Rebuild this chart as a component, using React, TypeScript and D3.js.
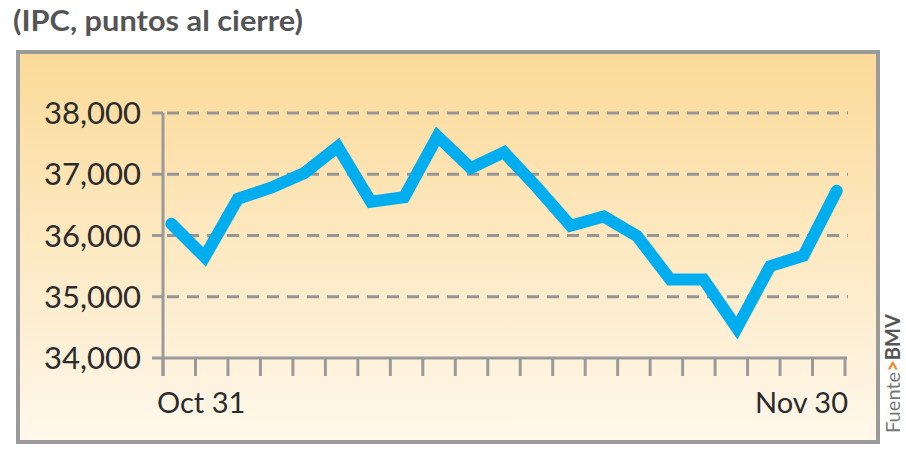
import { useEffect, useRef } from 'react';
import * as d3 from 'd3';

// IPC closing points, Oct 31 - Nov 30
const days = [
  'Oct 31', 'Nov 1', 'Nov 3', 'Nov 4', 'Nov 7', 'Nov 8', 'Nov 9', 'Nov 10', 'Nov 11',
  'Nov 14', 'Nov 15', 'Nov 16', 'Nov 17', 'Nov 18', 'Nov 22', 'Nov 23', 'Nov 24',
  'Nov 25', 'Nov 28', 'Nov 29', 'Nov 30',
];
const closes = [
  36190, 35650, 36600, 36780, 37020, 37450, 36550, 36625, 37620, 37100, 37360,
  36780, 36160, 36310, 35990, 35280, 35280, 34490, 35500, 35670, 36730,
];
const yTicks = [34000, 35000, 36000, 37000, 38000];
const tickCount = 22;
const firstLabel = 'Oct 31';
const lastLabel = 'Nov 30';

const font = 'Lato, "Open Sans", sans-serif';

export default function App() {
  const ref = useRef<SVGSVGElement | null>(null);

  useEffect(() => {
    if (!ref.current) return;
    const svg = d3.select(ref.current);
    svg.selectAll('*').remove();

    const width = 906;
    const height = 454;
    const left = 163;
    const right = 845;
    const top = 113;
    const bottom = 358;

    svg.attr('width', width).attr('height', height);

    const defs = svg.append('defs');
    const grad = defs.append('linearGradient')
      .attr('id', 'bg')
      .attr('x1', 0).attr('y1', 0).attr('x2', 0).attr('y2', 1);
    grad.append('stop').attr('offset', '0%').attr('stop-color', '#fbda98');
    grad.append('stop').attr('offset', '100%').attr('stop-color', '#fff8ec');

    // title
    svg.append('text')
      .attr('x', 13)
      .attr('y', 31)
      .attr('font-family', font)
      .attr('font-weight', 700)
      .attr('font-size', 28)
      .attr('fill', '#555')
      .attr('textLength', 290)
      .attr('lengthAdjust', 'spacingAndGlyphs')
      .text('(IPC, puntos al cierre)');

    // framed panel
    svg.append('rect')
      .attr('x', 18).attr('y', 52)
      .attr('width', 860).attr('height', 390)
      .attr('fill', 'url(#bg)')
      .attr('stroke', '#9a9a9a')
      .attr('stroke-width', 4);

    const x = d3.scalePoint<string>().domain(days).range([left, right]).padding(0.25);
    const xt = d3.scaleLinear().domain([0, tickCount - 1]).range([left, right]);
    const y = d3.scaleLinear().domain([34000, 38000]).range([bottom, top]);

    const g = svg.append('g');

    // dashed gridlines
    g.selectAll('line.grid')
      .data(yTicks.filter(d => d !== 34000))
      .enter()
      .append('line')
      .attr('class', 'grid')
      .attr('x1', left + 4).attr('x2', right + 3)
      .attr('y1', d => y(d)).attr('y2', d => y(d))
      .attr('stroke', '#969696')
      .attr('stroke-width', 3)
      .attr('stroke-dasharray', '12 8');

    // y axis
    g.append('line')
      .attr('x1', left).attr('x2', left)
      .attr('y1', y(38000)).attr('y2', bottom + 18)
      .attr('stroke', '#9a9a9a').attr('stroke-width', 3);

    g.selectAll('line.ytick')
      .data(yTicks)
      .enter()
      .append('line')
      .attr('x1', left - 11).attr('x2', left)
      .attr('y1', d => y(d)).attr('y2', d => y(d))
      .attr('stroke', '#9a9a9a').attr('stroke-width', 3);

    g.selectAll('text.ylab')
      .data(yTicks)
      .enter()
      .append('text')
      .attr('x', 141)
      .attr('y', d => y(d) + 11)
      .attr('text-anchor', 'end')
      .attr('font-family', font)
      .attr('font-size', 31)
      .attr('fill', '#2b2b2b')
      .text(d => d3.format(',')(d));

    // x axis
    g.append('line')
      .attr('x1', left).attr('x2', right + 2)
      .attr('y1', bottom).attr('y2', bottom)
      .attr('stroke', '#9a9a9a').attr('stroke-width', 3);

    g.selectAll('line.xtick')
      .data(d3.range(tickCount))
      .enter()
      .append('line')
      .attr('x1', d => xt(d)).attr('x2', d => xt(d))
      .attr('y1', bottom).attr('y2', bottom + 18)
      .attr('stroke', '#9a9a9a').attr('stroke-width', 3);

    g.append('text')
      .attr('x', left - 6)
      .attr('y', 413)
      .attr('font-family', font)
      .attr('font-size', 29)
      .attr('fill', '#2b2b2b')
      .text(firstLabel);

    g.append('text')
      .attr('x', right + 3)
      .attr('y', 413)
      .attr('text-anchor', 'end')
      .attr('font-family', font)
      .attr('font-size', 29)
      .attr('fill', '#2b2b2b')
      .text(lastLabel);

    // series
    const line = d3.line<number>()
      .x((_, i) => x(days[i])!)
      .y(d => y(d));

    g.append('path')
      .datum(closes)
      .attr('d', line)
      .attr('fill', 'none')
      .attr('stroke', '#00aeef')
      .attr('stroke-width', 12)
      .attr('stroke-linejoin', 'miter')
      .attr('stroke-linecap', 'round');

    // source
    const src = svg.append('text')
      .attr('transform', 'translate(900,433) rotate(-90)')
      .attr('font-family', font)
      .attr('font-size', 20)
      .attr('textLength', 119)
      .attr('lengthAdjust', 'spacingAndGlyphs');
    src.append('tspan').attr('fill', '#777').text('Fuente');
    src.append('tspan').attr('fill', '#f08a24').attr('font-weight', 700).text('>');
    src.append('tspan').attr('fill', '#555').attr('font-weight', 700).text('BMV');
  }, []);

  return (
    <div style={{ position: 'absolute', left: 0, top: 0 }}>
      <svg ref={ref}></svg>
    </div>
  );
}
